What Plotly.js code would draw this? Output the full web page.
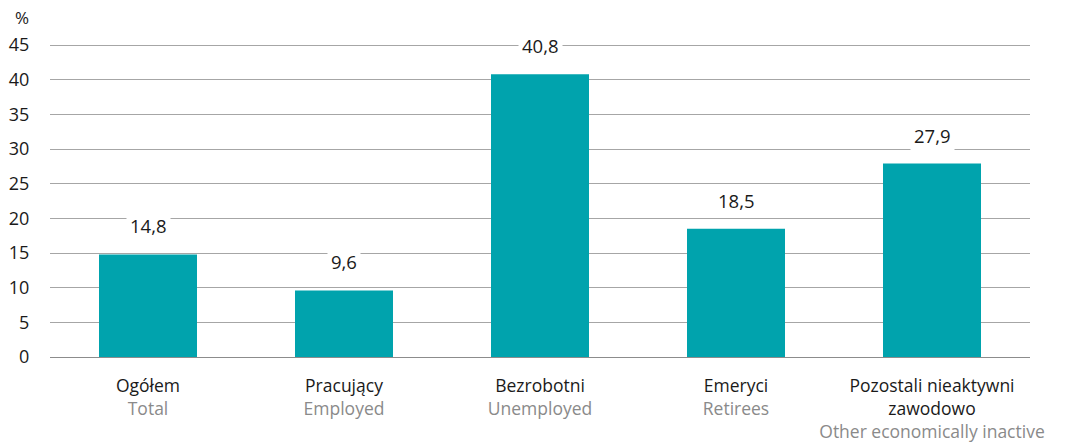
<!DOCTYPE html>
<html><head><meta charset="utf-8">
<script src="https://cdn.plot.ly/plotly-3.0.1.min.js"></script>
<style>body{margin:0;background:#fff}#c{width:1066px;height:442px}</style>
</head><body><div id="c"></div>
<script>
const categoriesPL = ["Ogółem", "Pracujący", "Bezrobotni", "Emeryci", "Pozostali nieaktywni<br>zawodowo"];
const categoriesEN = ["Total", "Employed", "Unemployed", "Retirees", "Other economically inactive"];
const values = [14.8, 9.6, 40.8, 18.5, 27.9];
const yTicks = [0, 5, 10, 15, 20, 25, 30, 35, 40, 45];

const FONT = "Open Sans, Noto Sans, sans-serif";
const xIdx = categoriesPL.map((_, i) => i);
const tickText = categoriesPL.map((p, i) => p + "<br><span style='color:#8a8a8a'>" + categoriesEN[i] + "</span>");

const trace = {
  type: "bar", x: xIdx, y: values,
  marker: {color: "#00A3AD"}, hoverinfo: "skip"
};
const annotations = values.map((v, i) => ({
  x: i, y: v, xref: "x", yref: "y", yanchor: "bottom", yshift: 12,
  text: v.toFixed(1).replace(".", ","), showarrow: false,
  bgcolor: "#ffffff", borderpad: 3,
  font: {family: FONT, size: 18.5, color: "#1a1a1a"}
}));
annotations.push({
  x: 0, y: 1, xref: "paper", yref: "paper", xshift: -37, yshift: 39,
  text: "%", showarrow: false, font: {family: FONT, size: 17, color: "#1a1a1a"}
});

const layout = {
  width: 1066, height: 442,
  margin: {l: 50, r: 36, t: 43, b: 85},
  paper_bgcolor: "#fff", plot_bgcolor: "#fff",
  bargap: 0.5, showlegend: false,
  xaxis: {
    tickmode: "array", tickvals: xIdx, ticktext: tickText,
    range: [-0.5, 4.5], showgrid: false, zeroline: false, showline: false,
    ticks: "outside", ticklen: 13, tickcolor: "rgba(0,0,0,0)",
    tickfont: {family: FONT, size: 17.5, color: "#1a1a1a"}
  },
  yaxis: {
    range: [0, 45.3], tickmode: "array", tickvals: yTicks,
    showgrid: true, gridcolor: "#a6a6a6", gridwidth: 1,
    zeroline: true, zerolinecolor: "#8c8c8c", zerolinewidth: 1,
    showline: false, ticks: "outside", ticklen: 16, tickcolor: "rgba(0,0,0,0)",
    tickfont: {family: FONT, size: 18, color: "#1a1a1a"}
  },
  annotations: annotations
};
Plotly.newPlot("c", [trace], layout, {staticPlot: true});
</script></body></html>
